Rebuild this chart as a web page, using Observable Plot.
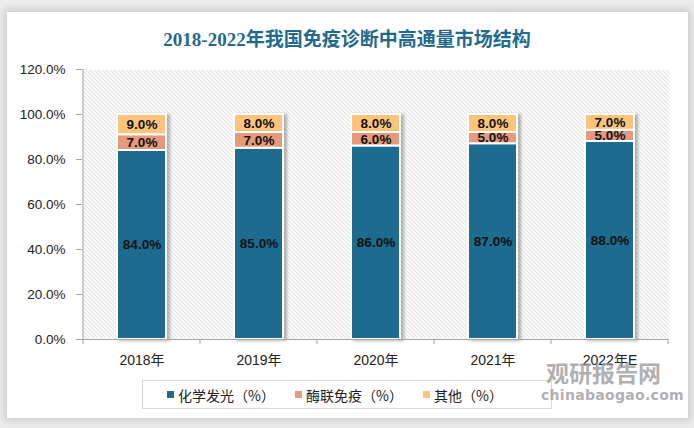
<!DOCTYPE html>
<html><head><meta charset="utf-8">
<script src="https://cdn.jsdelivr.net/npm/d3@7"></script>
<script src="https://cdn.jsdelivr.net/npm/@observablehq/plot@0.6"></script>
<style>
body{margin:0;width:694px;height:428px;background:#ececec;position:relative;overflow:hidden;font-family:"Noto Sans","Noto Sans CJK SC",sans-serif;}
#card{position:absolute;left:7px;top:12px;width:681px;height:406px;background:#fff;box-shadow:0 0 8px 2px rgba(0,0,0,0.16);}
#title{position:absolute;left:0;top:24px;width:694px;text-align:center;font:bold 19px "Liberation Serif","Noto Sans CJK SC",serif;color:#1f6a8e;}
#chart{position:absolute;left:0;top:0;}
#legend{position:absolute;left:142px;top:380px;width:410px;height:29px;border:1px solid #d9d9d9;display:flex;align-items:center;padding-left:24px;box-sizing:border-box;background:transparent;}
.item{width:143px;display:flex;align-items:center;font-size:14px;color:#222;font-family:"Noto Sans CJK SC",sans-serif;}
.sw{width:7px;height:7px;margin-right:4px;flex:none;}
#wm1{position:absolute;left:546px;top:361px;line-height:1;font:bold 23px/1 "Noto Sans CJK SC",sans-serif;color:rgba(150,150,150,0.75);}
#wm2{position:absolute;left:541px;top:388px;font:bold 14px/1 "DejaVu Sans",sans-serif;color:rgba(150,150,150,0.75);letter-spacing:0.3px;}
g[aria-label="bar"]{filter:drop-shadow(3px 1px 1.5px rgba(0,0,0,0.28));}
</style>
</head><body>
<div id="card"></div>
<div id="chart"></div>
<div id="title">2018-2022年我国免疫诊断中高通量市场结构</div>
<div id="legend"></div>
<div id="wm1">观研报告网</div>
<div id="wm2">chinabaogao.com</div>
<script>
const years = ["2018年","2019年","2020年","2021年","2022年E"];
const series = ["化学发光（%）","酶联免疫（%）","其他（%）"];
const chemi = [84,85,86,87,88];
const elisa = [7,7,6,5,5];
const other = [9,8,8,8,7];
const colors = ["#1d6b8f","#e69a7b","#fec47b"];
const yTicks = [0,20,40,60,80,100,120];

const rows = [];
years.forEach((y,i)=>{[chemi,elisa,other].forEach((arr,j)=>rows.push({year:y,series:series[j],value:arr[i]}));});

const chart = Plot.plot({
  width:694, height:428,
  marginLeft:82, marginRight:25, marginTop:69, marginBottom:89,
  style:{background:"transparent", fontFamily:"'Liberation Sans','Noto Sans CJK SC',sans-serif", fontSize:"13px", color:"#222", overflow:"visible"},
  x:{domain:years, paddingInner:0.58, paddingOuter:0.29, label:null},
  y:{domain:[0,120], label:null},
  color:{domain:series, range:colors},
  marks:[
    Plot.frame({fill:"url(#hatch)", stroke:null}),
    Plot.barY(rows,{x:"year", y:"value", fill:"series", stroke:"white", strokeWidth:2}),
    Plot.text(rows, Plot.stackY({x:"year", y:"value", text:d=>d.value.toFixed(1)+"%", fontWeight:"bold", fontSize:13.5, fill:"#111"})),
    Plot.ruleY([0],{stroke:"#a6a6a6"}),
    Plot.axisY({ticks:yTicks, tickSize:6, tickPadding:11, tickFormat:d=>d.toFixed(1)+"%", stroke:"#a6a6a6", fill:"#222", fontSize:13.5}),
    Plot.axisX({tickSize:0, tickPadding:16, fill:"#222", fontSize:14})
  ]
});
document.getElementById("chart").appendChild(chart);

const svg = d3.select(chart);
const defs = svg.insert("defs",":first-child");
const pat = defs.append("pattern").attr("id","hatch").attr("patternUnits","userSpaceOnUse").attr("width",4).attr("height",4);
pat.append("rect").attr("width",4).attr("height",4).attr("fill","#fff");
pat.append("path").attr("d","M-1,-1L5,5M-1,3L1,5M3,-1L5,1").attr("stroke","#cfcfcf").attr("stroke-width",1);

const xs = chart.scale("x"), ys = chart.scale("y");
const gap = (xs.step - xs.bandwidth)/2;
const bounds = years.map(y=>xs.apply(y)-gap).concat([xs.apply(years[years.length-1])+xs.bandwidth+gap]);
const y0 = ys.apply(0), yTop = ys.apply(120);
const g = svg.append("g").attr("stroke","#a6a6a6");
g.append("line").attr("x1",bounds[0]).attr("x2",bounds[0]).attr("y1",yTop).attr("y2",y0);
bounds.forEach(b=>g.append("line").attr("x1",b).attr("x2",b).attr("y1",y0).attr("y2",y0+5));

const lg = d3.select("#legend");
series.forEach((s,i)=>{
  const it = lg.append("div").attr("class","item");
  it.append("div").attr("class","sw").style("background",colors[i]);
  it.append("span").text(s);
});
</script>
</body></html>
